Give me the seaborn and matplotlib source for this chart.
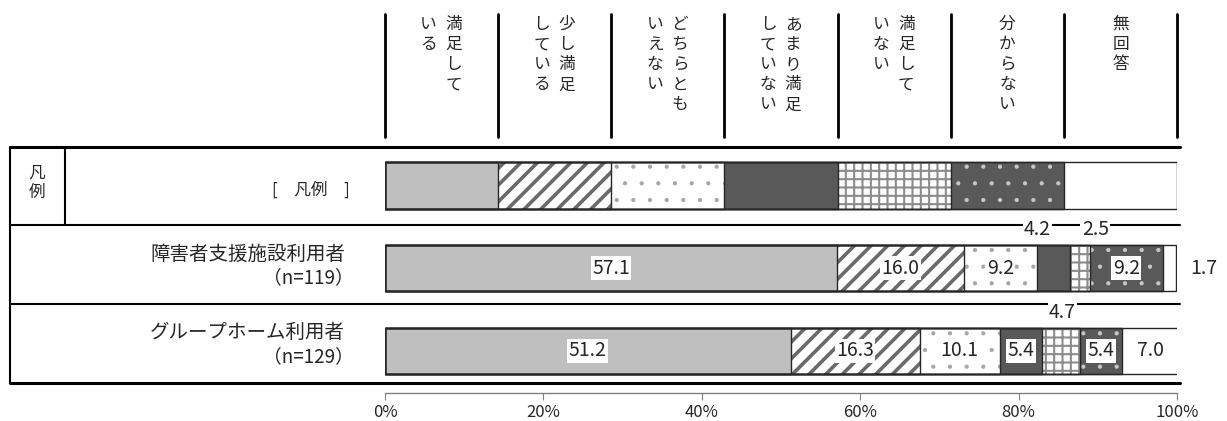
import matplotlib
matplotlib.use("Agg")
import matplotlib.pyplot as plt
from matplotlib.lines import Line2D
from matplotlib.patches import Rectangle
from matplotlib.transforms import Affine2D, blended_transform_factory
import numpy as np
import seaborn as sns

# header columns (vertical text, right column first)
header_cols = [["満足して", "いる"], ["少し満足", "している"], ["どちらとも", "いえない"],
               ["あまり満足", "していない"], ["満足して", "いない"], ["分からない"], ["無回答"]]
row_names = ["[　凡例　]", "障害者支援施設利用者", "グループホーム利用者"]
row_n = ["", "（n=119）", "（n=129）"]
legend_shares = [14.29, 14.29, 14.28, 14.29, 14.28, 14.29, 14.28]
shisetsu = [57.1, 16.0, 9.2, 4.2, 2.5, 9.2, 1.7]
group_home = [51.2, 16.3, 10.1, 5.4, 4.7, 5.4, 7.0]
x_ticks = [0, 20, 40, 60, 80, 100]

sns.set_style("white")
plt.rcParams["font.family"] = ["Noto Sans CJK JP", "DejaVu Sans"]

W, H = 1227, 421
fig = plt.figure(figsize=(W / 100, H / 100), dpi=100)
ax = fig.add_axes([385 / W, (H - 393) / H, 792 / W, 246 / H])
# pixel coords from top-left corner
px = Affine2D().scale(1 / W, -1 / H).translate(0, 1) + fig.transFigure

# segment styles
faces = ["#bfbfbf", "white", "white", "#595959", "white", "#595959", "white"]
hatches = [None, "//", ".", None, "++", ".", None]
hatch_cols = ["#bfbfbf", "#6a6a6a", "#a6a6a6", "#595959", "#8c8c8c", "#c8c8c8", "white"]
hatch_lw = [1, 2.6, 0.6, 1, 1.5, 0.6, 1]

values = np.array([legend_shares, shisetsu, group_home])
cum = np.cumsum(values, axis=1)

# stacked bars: draw cumulative totals from the outside in
for j in reversed(range(values.shape[1])):
    n_before = len(ax.patches)
    with plt.rc_context({"hatch.linewidth": hatch_lw[j]}):
        sns.barplot(x=cum[:, j], y=row_names, orient="h", color=faces[j], saturation=1,
                    errorbar=None, width=0.56, edgecolor=hatch_cols[j], linewidth=0,
                    hatch=hatches[j], ax=ax)
    for p in ax.patches[n_before:]:
        if hasattr(p, "set_hatch_linewidth"):
            p.set_hatch_linewidth(hatch_lw[j])
for p in list(ax.patches):
    ax.add_patch(Rectangle(p.get_xy(), p.get_width(), p.get_height(), fill=False,
                           edgecolor="#262626", lw=1.0, zorder=3))

ax.set_xlim(0, 100)
ax.set_ylim(2.508, -0.465)
ax.set_xlabel("")
ax.set_ylabel("")
ax.set_yticks([])
ax.set_xticks(x_ticks)
ax.set_xticklabels([f"{t}%" for t in x_ticks], fontsize=12)
ax.tick_params(axis="x", direction="out", length=5, color="#808080", pad=3, bottom=True)
for s in ["top", "left", "right"]:
    ax.spines[s].set_visible(False)
ax.spines["bottom"].set_color("#808080")
ax.spines["bottom"].set_linewidth(1.0)

# value labels
box = dict(facecolor="white", edgecolor="none", pad=1.0)
place = {1: {3: "up_left", 4: "up_right", 6: "right"}, 2: {4: "up"}}
for i in (1, 2):
    for j, v in enumerate(values[i]):
        mid = cum[i, j] - v / 2
        mode = place[i].get(j, "in")
        txt = f"{v:.1f}"
        if mode == "in":
            ax.text(mid, i, txt, ha="center", va="center", fontsize=14, bbox=box, zorder=5)
        elif mode == "right":
            ax.annotate(txt, (cum[i, j], i), xytext=(10, 0), textcoords="offset points",
                        ha="left", va="center", fontsize=14, annotation_clip=False)
        else:
            dx = {"up_left": -11.5, "up_right": 11, "up": 1}[mode]
            ax.annotate(txt, (mid, i - 0.47), xytext=(dx, 0), textcoords="offset points",
                        ha="center", va="center", fontsize=14, bbox=box, zorder=5,
                        annotation_clip=False)

# table frame
def line(xs, ys, lw=1.5):
    ax.add_line(Line2D(xs, ys, transform=px, color="black", lw=lw, clip_on=False, zorder=1))

line([10, 1180], [147, 147], 2.2)
line([10, 1180], [225, 225])
line([10, 1180], [304, 304])
line([10, 1180], [383, 383], 2.2)
line([10, 10], [147, 383])
line([65, 65], [147, 225])

# header column dividers at legend boundaries
bounds = np.concatenate([[0], cum[0]])
hdr = blended_transform_factory(ax.transData, px)
for b in bounds:
    ax.add_line(Line2D([b, b], [14, 137], transform=hdr, color="black", lw=2,
                       clip_on=False, zorder=1))
for k, cols in enumerate(header_cols):
    center = (bounds[k] + bounds[k + 1]) / 2
    n = len(cols)
    for c, s in enumerate(cols):
        off = 0 if n == 1 else (12 if c == 0 else -13)
        ax.annotate("\n".join(s), (center, 16), xycoords=hdr, xytext=(off * 0.72, 0),
                    textcoords="offset points", ha="center", va="top", fontsize=12,
                    linespacing=1.24, annotation_clip=False)

# row labels
fig.text(37, 183, "凡\n例", transform=px, ha="center", va="center", fontsize=12, linespacing=1.15)
fig.text(350, 190, row_names[0], transform=px, ha="right", va="center", fontsize=12)
for i, ys in ((1, (254, 278)), (2, (332, 357))):
    fig.text(345, ys[0], row_names[i], transform=px, ha="right", va="center", fontsize=14)
    fig.text(354, ys[1], row_n[i], transform=px, ha="right", va="center", fontsize=13.5)

fig.savefig("out.png", dpi=100)
